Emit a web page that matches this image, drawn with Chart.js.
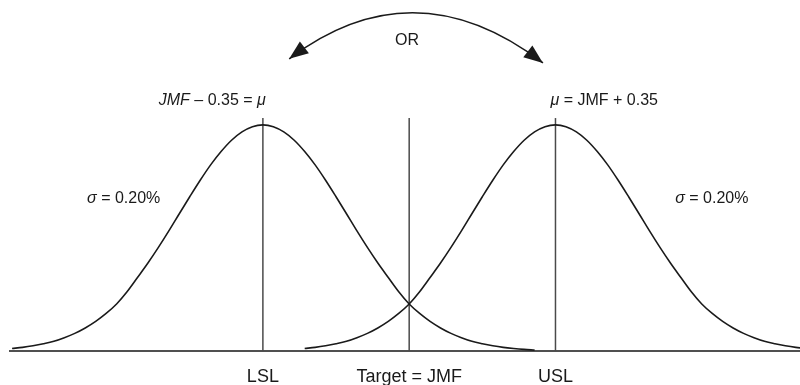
<!DOCTYPE html>
<html>
<head>
<meta charset="utf-8">
<title>LSL / USL shift</title>
<script src="https://cdn.jsdelivr.net/npm/chart.js@4/dist/chart.umd.min.js"></script>
<style>
  html, body { margin: 0; padding: 0; background: #fff; }
  #wrap { width: 800px; height: 385px; position: relative; }
</style>
</head>
<body>
<div id="wrap"><canvas id="chart"></canvas></div>
<script>
// x is in % relative to the JMF, y is curve height (peak = 1)
const offsets = [
  -0.600, -0.575, -0.550, -0.525, -0.500, -0.475, -0.450, -0.425, -0.400, -0.375, -0.350, -0.325,
  -0.300, -0.275, -0.250, -0.225, -0.200, -0.175, -0.150, -0.125, -0.100, -0.075, -0.050, -0.025,
   0.000,
   0.025,  0.050,  0.075,  0.100,  0.125,  0.150,  0.175,  0.200,  0.225,  0.250,  0.275,  0.300,
   0.325,  0.350,  0.375,  0.400,  0.425,  0.450,  0.475,  0.500,  0.525,  0.550,  0.575,  0.600,
   0.625,  0.650
];
const lslCurve = [
  0.011, 0.016, 0.023, 0.032, 0.043, 0.059, 0.078, 0.102, 0.131, 0.166, 0.208, 0.262,
  0.325, 0.389, 0.458, 0.531, 0.607, 0.682, 0.755, 0.823, 0.882, 0.932, 0.969, 0.992,
  1.000,
  0.992, 0.969, 0.932, 0.882, 0.823, 0.755, 0.682, 0.607, 0.531, 0.458, 0.389, 0.325,
  0.262, 0.208, 0.166, 0.131, 0.102, 0.078, 0.059, 0.043, 0.032, 0.023, 0.016, 0.011,
  0.007, 0.004
];
const uslCurve = [
  0.011, 0.016, 0.023, 0.032, 0.043, 0.059, 0.078, 0.102, 0.131, 0.166, 0.208, 0.262,
  0.325, 0.389, 0.458, 0.531, 0.607, 0.682, 0.755, 0.823, 0.882, 0.932, 0.969, 0.992,
  1.000,
  0.992, 0.969, 0.932, 0.882, 0.823, 0.755, 0.682, 0.607, 0.531, 0.458, 0.389, 0.325,
  0.262, 0.208, 0.166, 0.131, 0.102, 0.078, 0.059, 0.043, 0.032, 0.023, 0.016, 0.011,
  0.007, 0.004
];
const lslMean = -0.35;   // JMF - 0.35
const uslMean = 0.35;    // JMF + 0.35
const markers = [-0.35, 0, 0.35];
const markerLabels = ['LSL', 'Target = JMF', 'USL'];
const markerTop = 1.03;

const FONT = '"Liberation Sans", Arial, Helvetica, sans-serif';
const INK = '#1a1a1a';

function curvePoints(mean, heights) {
  return offsets.map((d, i) => ({ x: mean + d, y: heights[i] }));
}

const datasets = [
  { data: curvePoints(lslMean, lslCurve), borderColor: INK, borderWidth: 1.6 },
  { data: curvePoints(uslMean, uslCurve), borderColor: INK, borderWidth: 1.6 }
];
markers.forEach(m => {
  datasets.push({
    data: [{ x: m, y: 0 }, { x: m, y: markerTop }],
    borderColor: '#4a4a4a', borderWidth: 1.5, tension: 0
  });
});
datasets.forEach(ds => {
  ds.pointRadius = 0;
  ds.fill = false;
  if (ds.tension === undefined) ds.cubicInterpolationMode = 'monotone';
});

// draw a line of text made of plain / italic runs
function drawRuns(ctx, runs, x, y, align, size) {
  const fonts = runs.map(r => (r[1] ? 'italic ' : '') + size + 'px ' + FONT);
  let total = 0;
  const widths = runs.map((r, i) => { ctx.font = fonts[i]; const w = ctx.measureText(r[0]).width; total += w; return w; });
  let cx = align === 'right' ? x - total : align === 'center' ? x - total / 2 : x;
  ctx.textAlign = 'left';
  ctx.textBaseline = 'middle';
  runs.forEach((r, i) => {
    ctx.font = fonts[i];
    ctx.fillText(r[0], cx, y);
    cx += widths[i];
  });
}

function arrowHead(ctx, tipX, tipY, dirX, dirY) {
  const len = Math.hypot(dirX, dirY);
  const ux = dirX / len, uy = dirY / len;
  const L = 19, W = 7.5;
  const bx = tipX - ux * L, by = tipY - uy * L;
  ctx.beginPath();
  ctx.moveTo(tipX, tipY);
  ctx.lineTo(bx - uy * W, by + ux * W);
  ctx.lineTo(bx + uy * W, by - ux * W);
  ctx.closePath();
  ctx.fill();
}

const notes = {
  id: 'notes',
  afterDraw(chart) {
    const { ctx, scales: { x, y } } = chart;
    const px = v => x.getPixelForValue(v);
    const py = v => y.getPixelForValue(v);
    ctx.save();
    ctx.fillStyle = INK;
    ctx.strokeStyle = INK;

    // curved "OR" arrow between the two means
    const p0 = [px(-0.287), py(1.292)];
    const c = [px(0.012), py(1.708)];
    const p2 = [px(0.320), py(1.274)];
    ctx.lineWidth = 1.6;
    ctx.beginPath();
    ctx.moveTo(p0[0], p0[1]);
    ctx.quadraticCurveTo(c[0], c[1], p2[0], p2[1]);
    ctx.stroke();
    arrowHead(ctx, p0[0], p0[1], p0[0] - c[0], p0[1] - c[1]);
    arrowHead(ctx, p2[0], p2[1], p2[0] - c[0], p2[1] - c[1]);

    drawRuns(ctx, [['OR', false]], px(-0.005), py(1.372), 'center', 16);
    drawRuns(ctx, [['JMF', true], [' \u2013 0.35 = ', false], ['\u03bc', true]],
             px(lslMean + 0.007), py(1.108), 'right', 16);
    drawRuns(ctx, [['\u03bc', true], [' = JMF + 0.35', false]],
             px(uslMean - 0.012), py(1.108), 'left', 16);
    drawRuns(ctx, [['\u03c3', true], [' = 0.20%', false]], px(-0.683), py(0.675), 'center', 16);
    drawRuns(ctx, [['\u03c3', true], [' = 0.20%', false]], px(0.724), py(0.675), 'center', 16);
    ctx.restore();
  }
};

new Chart(document.getElementById('chart'), {
  type: 'line',
  data: { datasets },
  options: {
    responsive: true,
    maintainAspectRatio: false,
    animation: false,
    layout: { padding: { top: 57, left: 10, right: 0, bottom: 0 } },
    plugins: { legend: { display: false }, tooltip: { enabled: false } },
    scales: {
      x: {
        type: 'linear',
        min: -0.955,
        max: 0.935,
        grid: { display: false, drawTicks: false },
        border: { display: true, color: '#505050', width: 2 },
        afterBuildTicks: scale => { scale.ticks = markers.map(v => ({ value: v })); },
        afterFit: scale => { scale.height = 34; },
        ticks: {
          autoSkip: false,
          maxRotation: 0,
          padding: 15,
          color: INK,
          font: { family: FONT, size: 18 },
          callback: (value, index) => markerLabels[index]
        }
      },
      y: { display: false, min: 0, max: 1.3 }
    }
  },
  plugins: [notes]
});
</script>
</body>
</html>
